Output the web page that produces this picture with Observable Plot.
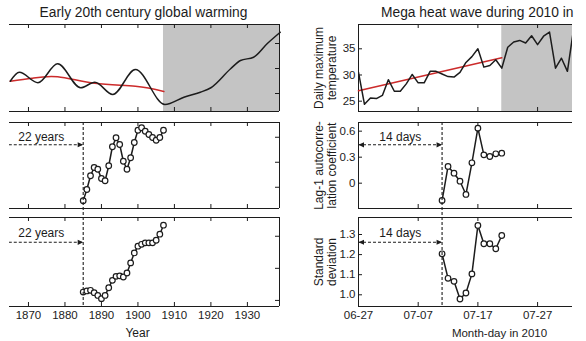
<!DOCTYPE html>
<html><head><meta charset="utf-8">
<script src="https://cdn.jsdelivr.net/npm/d3@7"></script>
<script src="https://cdn.jsdelivr.net/npm/@observablehq/plot@0.6"></script>
<style>
html,body{margin:0;padding:0;background:#fff;}
#chart{position:relative;width:586px;height:341px;overflow:hidden;background:#fff;}
#chart svg{position:absolute;left:0;top:0;}
</style></head><body><div id="chart"></div>
<script>
// ---------------- Early 20th century global warming ----------------
const curveYears  = [1865, 1867.5, 1872.6, 1878, 1884.3, 1888.2, 1893.1, 1899.3, 1907.4, 1912.6, 1917.1, 1920, 1925.4, 1928.1, 1931.7, 1935.4, 1939];
const curveValues = [-0.502, -0.430, -0.514, -0.362, -0.554, -0.510, -0.608, -0.408, -0.688, -0.630, -0.590, -0.554, -0.402, -0.336, -0.310, -0.202, -0.110];
const trendYears  = [1865, 1871, 1878, 1888.2, 1899.3, 1907.1];
const trendValues = [-0.502, -0.478, -0.466, -0.518, -0.542, -0.584];
const windowYears = [1885, 1886, 1887, 1888, 1889, 1890, 1891, 1892, 1893, 1894, 1895, 1896, 1897, 1898, 1899, 1900, 1901, 1902, 1903, 1904, 1905, 1906, 1907];
const arValues = [0.446, 0.491, 0.546, 0.579, 0.572, 0.535, 0.526, 0.586, 0.662, 0.698, 0.671, 0.604, 0.572, 0.618, 0.679, 0.728, 0.738, 0.724, 0.711, 0.699, 0.688, 0.699, 0.728];
const sdValues = [0.1052, 0.1059, 0.1063, 0.1048, 0.1031, 0.1011, 0.1031, 0.1079, 0.1125, 0.1150, 0.1153, 0.1146, 0.1171, 0.1234, 0.1296, 0.1338, 0.1350, 0.1359, 0.1359, 0.1359, 0.1375, 0.1413, 0.1469];
const yearTicks = [1870, 1880, 1890, 1900, 1910, 1920, 1930];
const yearTickLabels = ["1870", "1880", "1890", "1900", "1910", "1920", "1930"];
const warmingStart = 1907;
const yearWindowFrom = 1862;
const yearWindowStart = 1885;
const yearWindowLabel = "22 years";
const leftTitle = "Early 20th century global warming";
const leftXLabel = "Year";

// ---------------- Mega heat wave during 2010 ----------------
const dayStrings = ["2010-06-27","2010-06-28","2010-06-29","2010-06-30","2010-07-01","2010-07-02","2010-07-03","2010-07-04","2010-07-05","2010-07-06","2010-07-07","2010-07-08","2010-07-09","2010-07-10","2010-07-11","2010-07-12","2010-07-13","2010-07-14","2010-07-15","2010-07-16","2010-07-17","2010-07-18","2010-07-19","2010-07-20","2010-07-21","2010-07-22","2010-07-23","2010-07-24","2010-07-25","2010-07-26","2010-07-27","2010-07-28","2010-07-29","2010-07-30","2010-07-31","2010-08-01","2010-08-02"];
const tmaxValues = [30.5, 24.4, 25.6, 25.5, 26.1, 29.1, 26.9, 26.9, 28.3, 30.1, 28.5, 28.5, 30.7, 30.7, 30.2, 29.7, 29.6, 30.5, 32.4, 33.5, 35.0, 31.5, 31.8, 32.9, 31.3, 35.3, 36.3, 36.6, 36.1, 37.5, 35.8, 37.4, 38.2, 31.3, 33.2, 30.7, 38.5];
const tmaxTrendDays = ["2010-06-27", "2010-07-21"];
const tmaxTrendValues = [27.0, 33.3];
const windowDays = ["2010-07-11","2010-07-12","2010-07-13","2010-07-14","2010-07-15","2010-07-16","2010-07-17","2010-07-18","2010-07-19","2010-07-20","2010-07-21"];
const lagValues = [-0.20, 0.193, 0.115, 0.023, -0.13, 0.235, 0.635, 0.327, 0.308, 0.339, 0.346];
const stdValues = [1.204, 1.082, 1.067, 0.979, 1.009, 1.104, 1.345, 1.254, 1.254, 1.229, 1.295];
const dayTicks = ["2010-06-27", "2010-07-07", "2010-07-17", "2010-07-27"];
const dayTickLabels = ["06-27", "07-07", "07-17", "07-27"];
const heatStart = "2010-07-21";
const dayWindowFrom = "2010-06-27";
const dayWindowStart = "2010-07-11";
const dayWindowLabel = "14 days";
const rightTitle = "Mega heat wave during 2010 in";
const rightXLabel = "Month-day in 2010";
const tmaxTicks = [25, 30, 35];
const lagTicks = [0, 0.3, 0.6];
const lagTickLabels = ["0", "0.3", "0.6"];
const stdTicks = [1.0, 1.1, 1.2, 1.3];
const stdTickLabels = ["1.0", "1.1", "1.2", "1.3"];
const rightYLabels = ["Daily maximum\ntemperature", "Lag-1 autocorre-\nlation coefficient", "Standard\ndeviation"];
const leftYTicks = [[-0.6, -0.4, -0.2], [0.5, 0.6, 0.7], [0.10, 0.12, 0.14]];

// ---------------- layout ----------------
const W = 586, H = 341;
const FONT = "'Liberation Sans', Arial, Helvetica, sans-serif";
const INK = "#1c1c1c";
const GRAY = "#c4c4c4";
const RED = "#cc2b2b";
const leftCol = {left: 9, right: 279};
const rightCol = {left: 358, right: 572};
const rows = [{top: 24, bottom: 111}, {top: 122, bottom: 208}, {top: 217, bottom: 306}];
const leftX = [1864.8, 1938.8];
const day = s => new Date(s);
const DAY = 864e5;
const rightX = [day("2010-06-27"), new Date(+day("2010-06-27") + 35.85 * DAY)];
const yDomains = {
  tl: [-0.744, -0.048], ml: [0.415, 0.759], bl: [0.0962, 0.1517],
  tr: [23.03, 39.64], mr: [-0.292, 0.700], br: [0.9418, 1.3846]
};

const tbl = (xs, ys, fx = v => v) => xs.map((x, i) => ({x: fx(x), y: ys[i]}));
const curve = tbl(curveYears, curveValues);
const trend = tbl(trendYears, trendValues);
const ar = tbl(windowYears, arValues);
const sd = tbl(windowYears, sdValues);
const tmax = tbl(dayStrings, tmaxValues, day);
const tmaxTrend = tbl(tmaxTrendDays, tmaxTrendValues, day);
const lag = tbl(windowDays, lagValues, day);
const std = tbl(windowDays, stdValues, day);

const arrowRight = {draw(c) { c.moveTo(0, 0); c.lineTo(-5.5, -2.6); c.lineTo(-5.5, 2.6); c.closePath(); }};
const arrowLeft  = {draw(c) { c.moveTo(0, 0); c.lineTo(5.5, -2.6); c.lineTo(5.5, 2.6); c.closePath(); }};

const style = {fontFamily: FONT, fontSize: "11.5px", color: INK, background: "transparent", overflow: "visible"};
const centered = {textAnchor: "middle", lineAnchor: "middle", fill: INK};

function frameMarks(col, row, xDomain, yDomain, xTicks, yTicks, side) {
  const iw = col.right - col.left, ih = row.bottom - row.top, T = 4;
  return [
    Plot.ruleY(yDomain, {stroke: INK, strokeWidth: 1}),
    Plot.ruleX([side === "right" ? xDomain[1] : xDomain[0]], {stroke: INK, strokeWidth: 1}),
    Plot.tickX(xTicks, {x: d => d, insetTop: ih - T, stroke: INK}),
    Plot.tickX(xTicks, {x: d => d, insetBottom: ih - T, stroke: INK}),
    Plot.tickY(yTicks, {y: d => d, [side === "right" ? "insetLeft" : "insetRight"]: iw - T, stroke: INK})
  ];
}

function panel({col, row, x, y, marks, xAxis, yAxis}) {
  return Plot.plot({
    width: W, height: H,
    marginLeft: col.left, marginRight: W - col.right,
    marginTop: row.top, marginBottom: H - row.bottom,
    style,
    x: xAxis ? {...x, tickSize: 0, tickPadding: 4, label: null} : {...x, axis: null},
    y: yAxis ? {...y, tickSize: 0, tickPadding: 3, label: null} : {...y, axis: null},
    marks
  });
}

const yearFmt = v => yearTickLabels[yearTicks.indexOf(v)];
const dayFmt = v => dayTickLabels[dayTicks.map(s => +day(s)).indexOf(+v)];
const dayTickDates = dayTicks.map(day);

const lineStyle = {stroke: INK, strokeWidth: 1.5};
const dotStyle = {stroke: INK, fill: "white", strokeWidth: 1.2, r: 2.8};
const dash = "3,2";

function windowArrow(from, to, yv, label, ty, both) {
  const mid = from instanceof Date ? new Date((+from + +to) / 2) : (from + to) / 2;
  const marks = [
    Plot.ruleY([yv], {x1: () => from, x2: () => to, y: d => d, stroke: INK, strokeWidth: 1.1, strokeDasharray: dash, clip: true}),
    Plot.dot([to], {x: d => d, y: () => yv, symbol: arrowRight, fill: INK, r: 3}),
    Plot.text([label], {x: () => mid, y: () => ty, text: d => d, fontSize: 12, ...centered})
  ];
  if (both) marks.push(Plot.dot([from], {x: d => d, y: () => yv, symbol: arrowLeft, fill: INK, r: 3}));
  return marks;
}

function yLabel(text) {
  return Plot.text([text], {frameAnchor: "left", dx: -33.5, rotate: -90, text: d => d, fontSize: 12, lineHeight: 1.1, ...centered});
}

const charts = [];

// Left top
charts.push(panel({col: leftCol, row: rows[0], x: {domain: leftX}, y: {domain: yDomains.tl}, marks: [
  Plot.rect([{x1: warmingStart, x2: leftX[1]}], {x1: "x1", x2: "x2", fill: GRAY}),
  ...frameMarks(leftCol, rows[0], leftX, yDomains.tl, yearTicks, leftYTicks[0], "right"),
  Plot.line(trend, {x: "x", y: "y", curve: "natural", stroke: RED, strokeWidth: 1.6}),
  Plot.line(curve, {x: "x", y: "y", curve: "monotone-x", ...lineStyle}),
  Plot.text([leftTitle], {frameAnchor: "top", dy: -12, dx: -1, text: d => d, fontSize: 13.8, ...centered})
]}));

// Left middle
charts.push(panel({col: leftCol, row: rows[1], x: {domain: leftX}, y: {domain: yDomains.ml}, marks: [
  ...frameMarks(leftCol, rows[1], leftX, yDomains.ml, yearTicks, leftYTicks[1], "right"),
  ...windowArrow(yearWindowFrom, yearWindowStart, 0.67, yearWindowLabel, 0.699, false),
  Plot.line(ar, {x: "x", y: "y", ...lineStyle}),
  Plot.dot(ar, {x: "x", y: "y", ...dotStyle})
]}));

// Left bottom
charts.push(panel({col: leftCol, row: rows[2], x: {domain: leftX, ticks: yearTicks, tickFormat: yearFmt}, y: {domain: yDomains.bl}, xAxis: true, marks: [
  ...frameMarks(leftCol, rows[2], leftX, yDomains.bl, yearTicks, leftYTicks[2], "right"),
  ...windowArrow(yearWindowFrom, yearWindowStart, 0.13625, yearWindowLabel, 0.1417, false),
  Plot.line(sd, {x: "x", y: "y", ...lineStyle}),
  Plot.dot(sd, {x: "x", y: "y", ...dotStyle}),
  Plot.text([leftXLabel], {frameAnchor: "bottom", dy: 27, dx: -7, text: d => d, fontSize: 12, ...centered})
]}));

// Right top
charts.push(panel({col: rightCol, row: rows[0], x: {type: "utc", domain: rightX}, y: {domain: yDomains.tr, ticks: tmaxTicks}, yAxis: true, marks: [
  Plot.rect([{x1: day(heatStart), x2: rightX[1]}], {x1: "x1", x2: "x2", fill: GRAY}),
  ...frameMarks(rightCol, rows[0], rightX, yDomains.tr, dayTickDates, tmaxTicks, "left"),
  Plot.line(tmaxTrend, {x: "x", y: "y", stroke: RED, strokeWidth: 1.6}),
  Plot.line(tmax, {x: "x", y: "y", ...lineStyle, clip: true}),
  Plot.text([rightTitle], {frameAnchor: "top-right", dy: -12, dx: 1, text: d => d, fontSize: 13.8, ...centered, textAnchor: "end"}),
  yLabel(rightYLabels[0])
]}));

// Right middle
charts.push(panel({col: rightCol, row: rows[1], x: {type: "utc", domain: rightX}, y: {domain: yDomains.mr, ticks: lagTicks, tickFormat: v => lagTickLabels[lagTicks.indexOf(v)]}, yAxis: true, marks: [
  ...frameMarks(rightCol, rows[1], rightX, yDomains.mr, dayTickDates, lagTicks, "left"),
  ...windowArrow(day(dayWindowFrom), day(dayWindowStart), 0.443, dayWindowLabel, 0.527, true),
  Plot.line(lag, {x: "x", y: "y", ...lineStyle}),
  Plot.dot(lag, {x: "x", y: "y", ...dotStyle}),
  yLabel(rightYLabels[1])
]}));

// Right bottom
charts.push(panel({col: rightCol, row: rows[2], x: {type: "utc", domain: rightX, ticks: dayTickDates, tickFormat: dayFmt}, y: {domain: yDomains.br, ticks: stdTicks, tickFormat: v => stdTickLabels[stdTicks.indexOf(v)]}, xAxis: true, yAxis: true, marks: [
  ...frameMarks(rightCol, rows[2], rightX, yDomains.br, dayTickDates, stdTicks, "left"),
  ...windowArrow(day(dayWindowFrom), day(dayWindowStart), 1.2615, dayWindowLabel, 1.3065, true),
  Plot.line(std, {x: "x", y: "y", ...lineStyle}),
  Plot.dot(std, {x: "x", y: "y", ...dotStyle}),
  Plot.text([rightXLabel], {frameAnchor: "bottom", dy: 27, dx: 34, text: d => d, fontSize: 11.5, ...centered}),
  yLabel(rightYLabels[2])
]}));

// window start dashed verticals spanning middle+bottom rows
const spanRow = {top: rows[1].top, bottom: rows[2].bottom};
charts.push(Plot.plot({width: W, height: H, marginLeft: leftCol.left, marginRight: W - leftCol.right, marginTop: spanRow.top, marginBottom: H - spanRow.bottom, style,
  x: {domain: leftX, axis: null}, y: {domain: [0, 1], axis: null},
  marks: [Plot.ruleX([yearWindowStart], {stroke: INK, strokeWidth: 1.1, strokeDasharray: dash})]}));
charts.push(Plot.plot({width: W, height: H, marginLeft: rightCol.left, marginRight: W - rightCol.right, marginTop: spanRow.top, marginBottom: H - spanRow.bottom, style,
  x: {type: "utc", domain: rightX, axis: null}, y: {domain: [0, 1], axis: null},
  marks: [Plot.ruleX([day(dayWindowStart)], {stroke: INK, strokeWidth: 1.1, strokeDasharray: dash})]}));

const root = document.getElementById("chart");
charts.forEach(c => root.appendChild(c));
</script></body></html>
